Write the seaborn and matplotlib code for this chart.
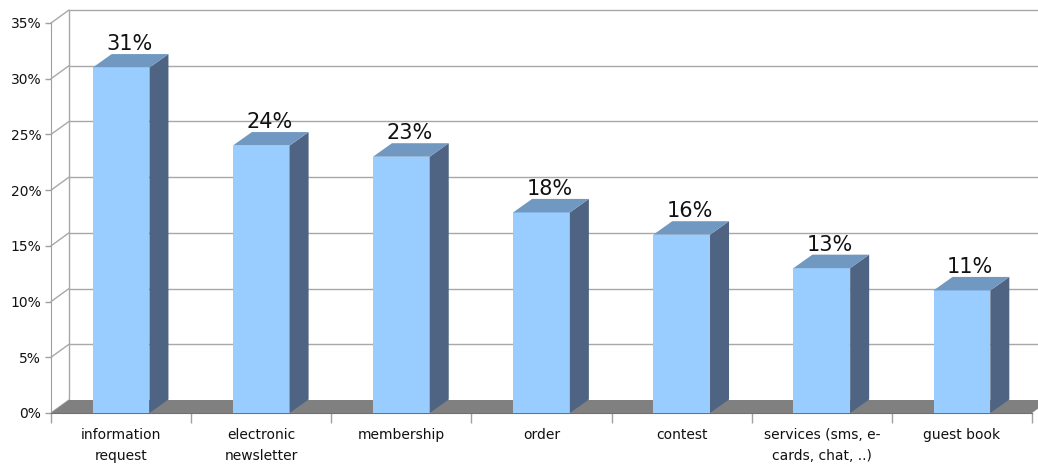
import numpy as np
import pandas as pd
import matplotlib
matplotlib.use("Agg")
import matplotlib.pyplot as plt
import seaborn as sns
from matplotlib.patches import Polygon

categories = ["information\nrequest", "electronic\nnewsletter", "membership", "order",
              "contest", "services (sms, e-\ncards, chat, ..)", "guest book"]
values = [31, 24, 23, 18, 16, 13, 11]
value_labels = ["31%", "24%", "23%", "18%", "16%", "13%", "11%"]
y_ticks = [0, 5, 10, 15, 20, 25, 30, 35]
y_tick_labels = ["0%", "5%", "10%", "15%", "20%", "25%", "30%", "35%"]

sns.set_style("white")
plt.rcParams["font.family"] = ["DejaVu Sans"]

W, H = 1038, 466
fig = plt.figure(figsize=(W / 100, H / 100), dpi=100)
ax_l, ax_r, ax_b, ax_t = 51, 1032, 413, 23
ax = fig.add_axes([ax_l / W, (H - ax_b) / H, (ax_r - ax_l) / W, (ax_b - ax_t) / H])

df = pd.DataFrame({"cat": categories, "val": values})
sns.barplot(data=df, x="cat", y="val", color="#99CCFF", saturation=1, width=0.405,
            ax=ax, zorder=3, linewidth=0)

n = len(categories)
ax.set_xlim(-0.5, n - 0.5)
ax.set_ylim(0, 35)
ax.set_xlabel("")
ax.set_ylabel("")

px_x = (ax_r - ax_l) / n
px_y = (ax_b - ax_t) / 35
dxw, dyw = 18 / px_x, 13 / px_y
dxb, dyb = 19 / px_x, 13.5 / px_y

grid_c = "#A8A8A8"
# walls
for v in y_ticks:
    ax.plot([-0.5, -0.5 + dxw], [v, v + dyw], color=grid_c, lw=1, clip_on=False, zorder=0)
    if v > 0:
        ax.plot([-0.5 + dxw, n + 1], [v + dyw, v + dyw], color=grid_c, lw=1,
                clip_on=False, zorder=0)
ax.plot([-0.5 + dxw, -0.5 + dxw], [dyw, 35 + dyw], color=grid_c, lw=1, clip_on=False, zorder=0)

# floor
floor = Polygon([(-0.5, 0), (n - 0.5, 0), (n - 0.5 + dxw, dyw), (-0.5 + dxw, dyw)],
                closed=True, facecolor="#808080", edgecolor="none", clip_on=False, zorder=1)
ax.add_patch(floor)

# 3D faces for bars
for p in list(ax.patches):
    if p is floor:
        continue
    x0, w, h = p.get_x(), p.get_width(), p.get_height()
    side = Polygon([(x0 + w, 0), (x0 + w, h), (x0 + w + dxb, h + dyb), (x0 + w + dxb, dyb)],
                   closed=True, facecolor="#4F6482", edgecolor="none", clip_on=False, zorder=3)
    top = Polygon([(x0, h), (x0 + w, h), (x0 + w + dxb, h + dyb), (x0 + dxb, h + dyb)],
                  closed=True, facecolor="#7198C0", edgecolor="none", clip_on=False, zorder=3)
    ax.add_patch(side)
    ax.add_patch(top)

for i, (v, lab) in enumerate(zip(values, value_labels)):
    ax.annotate(lab, (i, v), xytext=(5.8, 12.6), textcoords="offset points",
                ha="center", va="baseline", fontsize=15, color="#111111", zorder=5)

for s in ["top", "right"]:
    ax.spines[s].set_visible(False)
ax.spines["left"].set_color("#A0A0A0")
ax.spines["bottom"].set_color("#707070")
ax.spines["left"].set_zorder(2)
ax.spines["bottom"].set_zorder(2)

ax.set_yticks(y_ticks, labels=y_tick_labels)
ax.set_xticks(np.arange(-0.5, n, 1.0), labels=[""] * (n + 1))
ax.set_xticks(np.arange(n), labels=categories, minor=True)
ax.tick_params(axis="y", left=True, length=4, width=1, color="#A0A0A0", pad=3,
               labelsize=10, labelcolor="#111111")
ax.tick_params(axis="x", which="major", bottom=True, length=7, width=1, color="#A0A0A0")
ax.tick_params(axis="x", which="minor", bottom=True, length=0, pad=11, labelsize=10,
               labelcolor="#111111")
for t in ax.get_xticklabels(minor=True):
    t.set_linespacing(1.65)

ax.set_facecolor("none")
fig.savefig("out.png", dpi=100)
